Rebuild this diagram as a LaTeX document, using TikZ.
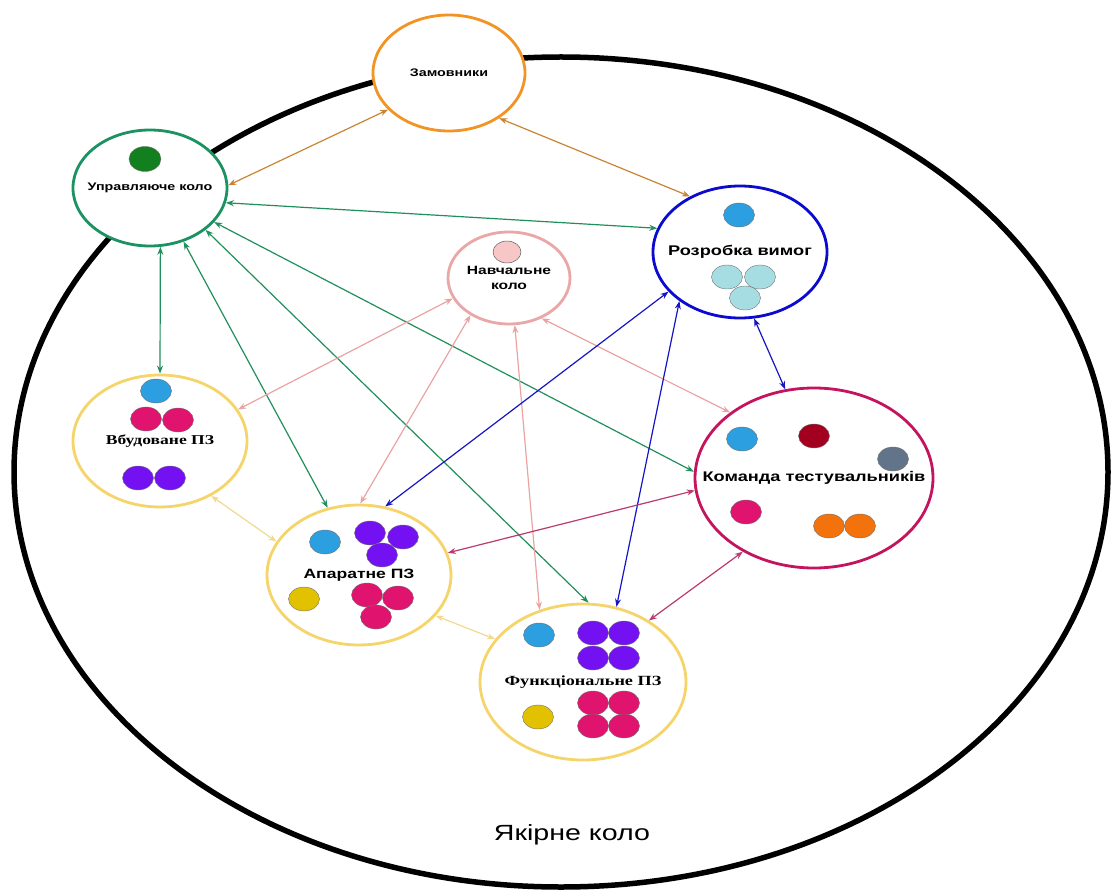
\documentclass[tikz,border=0pt]{standalone}
\usepackage{fontspec}
\setmainfont{Liberation Sans}[FakeStretch=1.3]
\newfontfamily\sanswide{Liberation Sans}[FakeStretch=1.3]
\newfontfamily\serifwide{Liberation Serif}[FakeStretch=1.3]
\usetikzlibrary{arrows,arrows.meta,shapes.geometric}
\definecolor{zamor}{HTML}{F29424}
\definecolor{uprgr}{HTML}{1B9261}
\definecolor{navpk}{HTML}{EAA7A7}
\definecolor{rozbl}{HTML}{0B0BD0}
\definecolor{pzyl}{HTML}{F5D46A}
\definecolor{tstcr}{HTML}{C4145E}
\definecolor{arror}{HTML}{C98433}
\definecolor{arrgr}{HTML}{208F5C}
\definecolor{arrpk}{HTML}{EAA3A3}
\definecolor{arrbl}{HTML}{1515C5}
\definecolor{arrcr}{HTML}{B93A6E}
\definecolor{arryl}{HTML}{F1D98F}
\definecolor{dblue}{HTML}{2B9FE0}
\definecolor{dmag}{HTML}{E0136E}
\definecolor{dviol}{HTML}{7311F2}
\definecolor{dyel}{HTML}{E2C100}
\definecolor{dred}{HTML}{A3001F}
\definecolor{dgrey}{HTML}{62748A}
\definecolor{dorng}{HTML}{F3720C}
\definecolor{dcyan}{HTML}{A6DDE3}
\definecolor{dgreen}{HTML}{12801E}
\definecolor{dpink}{HTML}{F7C6C6}
\tikzstyle{circ}=[ellipse,draw,fill=white,line width=2.8pt,inner sep=0pt]
\tikzstyle{dot}=[draw=black!55,line width=0.4pt]
\tikzset{every picture/.style={line width=0.5pt}}

\begin{document}
\begin{tikzpicture}[x=1pt,y=-1pt]
\useasboundingbox (0,0) rectangle (1111,893);
\draw[line width=5.5pt] (561,472) ellipse (547 and 415);
\node (anchor) at (572,835) {\sanswide\fontsize{22}{26}\selectfont Якірне коло};

\node[circ,draw=zamor,minimum width=152pt,minimum height=116pt,
  label={[font=\sanswide\bfseries\fontsize{11}{13}\selectfont]center:Замовники}] (zam) at (449,73) {};
\node[circ,draw=uprgr,minimum width=154pt,minimum height=116pt,
  label={[font=\sanswide\bfseries\fontsize{11}{13}\selectfont]center:Управляюче коло}] (upr) at (150,188) {};
\node[circ,draw=navpk,minimum width=122pt,minimum height=92pt,
  label={[align=center,font=\sanswide\bfseries\fontsize{12}{15}\selectfont]center:Навчальне\\коло}] (nav) at (509,278) {};
\node[circ,draw=rozbl,minimum width=174pt,minimum height=132pt,
  label={[font=\sanswide\bfseries\fontsize{14}{16}\selectfont]center:Розробка вимог}] (roz) at (740,252) {};
\node[circ,draw=pzyl,minimum width=174pt,minimum height=132pt,
  label={[font=\serifwide\bfseries\fontsize{13.5}{16}\selectfont]center:Вбудоване ПЗ}] (vbud) at (160,441) {};
\node[circ,draw=pzyl,minimum width=184pt,minimum height=140pt,
  label={[font=\sanswide\bfseries\fontsize{13.5}{16}\selectfont]center:Апаратне ПЗ}] (apar) at (359,575) {};
\node[circ,draw=pzyl,minimum width=206pt,minimum height=156pt,
  label={[font=\serifwide\bfseries\fontsize{14}{16}\selectfont]center:Функціональне ПЗ}] (func) at (583,682) {};
\node[circ,draw=tstcr,minimum width=238pt,minimum height=180pt,
  label={[font=\sanswide\bfseries\fontsize{14}{16}\selectfont]center:Команда тестувальників}] (test) at (814,478) {};

% members
\filldraw[dot,fill=dgreen] (145,159) ellipse (16 and 12.5);
\filldraw[dot,draw=black!70,fill=dpink] (507,252) ellipse (14 and 11);
\foreach \x/\y/\c in {739/215/dblue,727/277/dcyan,760/277/dcyan,745/298/dcyan,
  156/391/dblue,146/419/dmag,178/420/dmag,138/478/dviol,170/478/dviol,
  325/542/dblue,370/533/dviol,403/537/dviol,382/555/dviol,304/599/dyel,
  367/595/dmag,398/598/dmag,376/617/dmag,
  539/635/dblue,593/633/dviol,624/633/dviol,593/658/dviol,624/658/dviol,
  538/717/dyel,593/703/dmag,624/703/dmag,593/726/dmag,624/726/dmag,
  742/439/dblue,814/436/dred,893/459/dgrey,746/512/dmag,829/526/dorng,860/526/dorng}
  \filldraw[dot,fill=\c] (\x,\y) ellipse (15.5 and 12);

\path[<->,>={Stealth[length=8pt,width=6pt]},line width=1.2pt]
(zam.-149) edge[arror] (upr.2)
(zam.-42) edge[arror] (roz.132)
(upr.-11) edge[arrgr] (roz.164)
(upr.-80) edge[arrgr] (vbud.90)
(upr.-58) edge[arrgr] (apar.115)
(upr.-37) edge[arrgr] (func.86)
(upr.-28) edge[arrgr] (test.177)
(nav.200) edge[arrpk] (vbud.22)
(nav.-136) edge[arrpk] (apar.89)
(nav.-83) edge[arrpk] (func.121)
(nav.-51) edge[arrpk] (test.142)
(roz.-151) edge[arrbl] (apar.69)
(roz.-141) edge[arrbl] (func.66)
(roz.-78) edge[arrbl] (test.108)
(test.-174) edge[arrcr] (apar.14)
(test.-134) edge[arrcr] (func.43)
(vbud.-47) edge[arryl] (apar.158)
(apar.-28) edge[arryl] (func.154);
\end{tikzpicture}
\end{document}
